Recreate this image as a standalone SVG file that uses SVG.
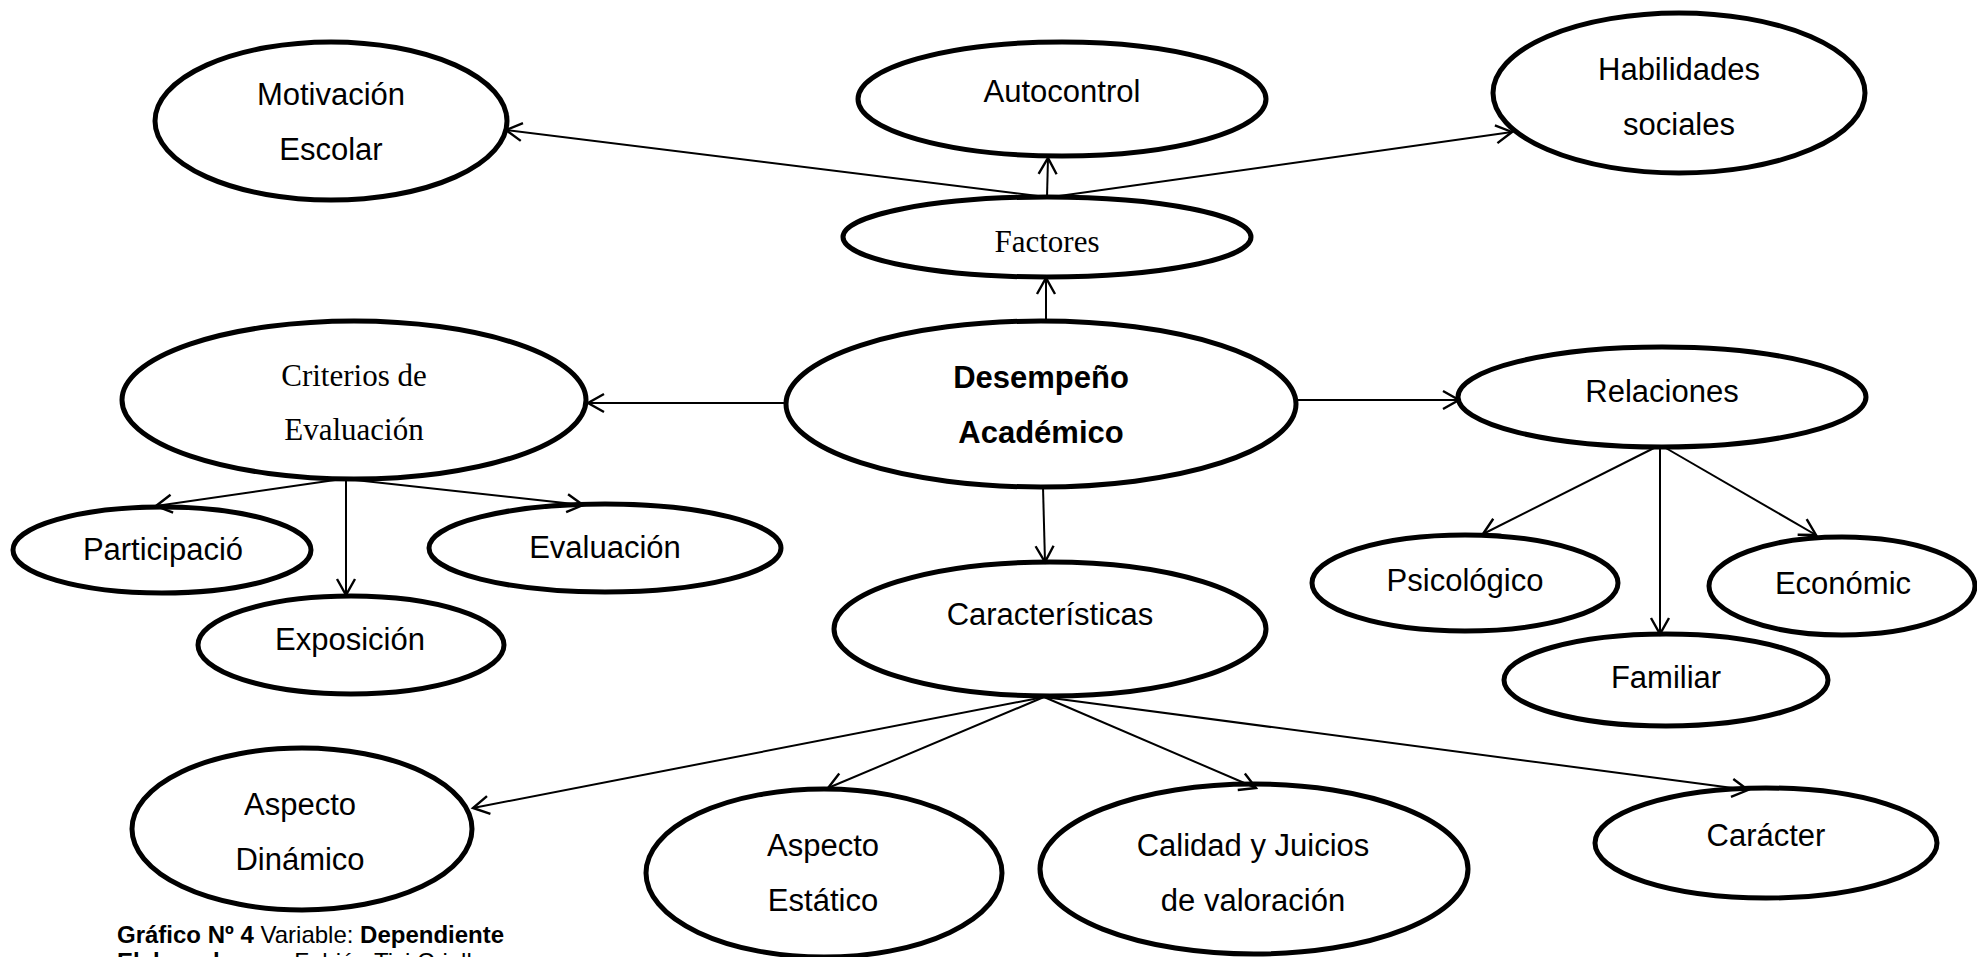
<svg xmlns="http://www.w3.org/2000/svg" width="1977" height="957" viewBox="0 0 1977 957">
<style>
.n ellipse{fill:#fff;stroke:#000;stroke-width:5}
.t{font-family:"Liberation Sans",Arial,sans-serif;font-size:31px;text-anchor:middle;fill:#000}
.s{font-family:"Liberation Serif","Times New Roman",serif;font-size:31px;text-anchor:middle;fill:#000}
.b{font-weight:bold}
.c line{stroke:#000;stroke-width:2;marker-end:url(#ar)}
.cap{font-family:"Liberation Sans",Arial,sans-serif;font-size:24px;fill:#000}
</style>
<defs>
<marker id="ar" markerUnits="userSpaceOnUse" markerWidth="22" markerHeight="22" viewBox="0 0 22 22" refX="19" refY="11" orient="auto">
<path d="M3,2 L19,11 L3,20" fill="none" stroke="#000" stroke-width="2.4"/>
</marker>
</defs>
<rect width="1977" height="957" fill="#fff"/>
<g class="n" id="motivacion"><ellipse cx="331" cy="121" rx="176" ry="79"/><text class="t" x="331" y="105">Motivación</text><text class="t" x="331" y="160">Escolar</text></g>
<g class="n" id="autocontrol"><ellipse cx="1062" cy="99" rx="204" ry="57"/><text class="t" x="1062" y="102">Autocontrol</text></g>
<g class="n" id="habilidades"><ellipse cx="1679" cy="93" rx="186" ry="80"/><text class="t" x="1679" y="80">Habilidades</text><text class="t" x="1679" y="135">sociales</text></g>
<g class="n" id="factores"><ellipse cx="1047" cy="237" rx="204" ry="40"/><text class="s" x="1047" y="252">Factores</text></g>
<g class="n" id="criterios"><ellipse cx="354" cy="400" rx="232" ry="79"/><text class="s" x="354" y="386">Criterios de</text><text class="s" x="354" y="440">Evaluación</text></g>
<g class="n" id="desempeno"><ellipse cx="1041" cy="404" rx="255" ry="83"/><text class="t b" x="1041" y="388">Desempeño</text><text class="t b" x="1041" y="443">Académico</text></g>
<g class="n" id="relaciones"><ellipse cx="1662" cy="397" rx="204" ry="50"/><text class="t" x="1662" y="402">Relaciones</text></g>
<g class="n" id="participacion"><ellipse cx="162" cy="550" rx="149" ry="43"/><text class="t" x="163" y="560">Participació</text></g>
<g class="n" id="evaluacion"><ellipse cx="605" cy="548" rx="176" ry="44"/><text class="t" x="605" y="558">Evaluación</text></g>
<g class="n" id="exposicion"><ellipse cx="351" cy="645" rx="153" ry="49"/><text class="t" x="350" y="650">Exposición</text></g>
<g class="n" id="caracteristicas"><ellipse cx="1050" cy="629" rx="216" ry="67"/><text class="t" x="1050" y="625">Características</text></g>
<g class="n" id="psicologico"><ellipse cx="1465" cy="583" rx="153" ry="48"/><text class="t" x="1465" y="591">Psicológico</text></g>
<g class="n" id="economic"><ellipse cx="1842" cy="586" rx="133" ry="49"/><text class="t" x="1843" y="594">Económic</text></g>
<g class="n" id="familiar"><ellipse cx="1666" cy="680" rx="162" ry="46"/><text class="t" x="1666" y="688">Familiar</text></g>
<g class="n" id="dinamico"><ellipse cx="302" cy="829" rx="170" ry="81"/><text class="t" x="300" y="815">Aspecto</text><text class="t" x="300" y="870">Dinámico</text></g>
<g class="n" id="estatico"><ellipse cx="824" cy="873" rx="178" ry="84"/><text class="t" x="823" y="856">Aspecto</text><text class="t" x="823" y="911">Estático</text></g>
<g class="n" id="calidad"><ellipse cx="1254" cy="869" rx="214" ry="85"/><text class="t" x="1253" y="856">Calidad y Juicios</text><text class="t" x="1253" y="911">de valoración</text></g>
<g class="n" id="caracter"><ellipse cx="1766" cy="843" rx="171" ry="55"/><text class="t" x="1766" y="846">Carácter</text></g>
<g class="c" id="connectors">
<line x1="1046" y1="197" x2="506" y2="130"/>
<line x1="1047" y1="197" x2="1048" y2="158"/>
<line x1="1052" y1="197" x2="1512" y2="132"/>
<line x1="1046" y1="321" x2="1046" y2="278"/>
<line x1="786" y1="403" x2="588" y2="403"/>
<line x1="1296" y1="400" x2="1459" y2="400"/>
<line x1="1043" y1="487" x2="1045" y2="562"/>
<line x1="335" y1="480" x2="156" y2="506"/>
<line x1="346" y1="480" x2="346" y2="595"/>
<line x1="355" y1="480" x2="583" y2="505"/>
<line x1="1656" y1="447" x2="1483" y2="534"/>
<line x1="1660" y1="447" x2="1660" y2="634"/>
<line x1="1664" y1="447" x2="1816" y2="535"/>
<line x1="1044" y1="697" x2="473" y2="808"/>
<line x1="1044" y1="697" x2="828" y2="788"/>
<line x1="1044" y1="697" x2="1256" y2="788"/>
<line x1="1044" y1="697" x2="1748" y2="790"/>
</g>
<g id="caption">
<text class="cap" x="117" y="943"><tspan font-weight="bold">Gráfico Nº 4</tspan> Variable: <tspan font-weight="bold">Dependiente</tspan></text>
<text class="cap" x="117" y="970"><tspan font-weight="bold">Elaborado por:</tspan> Fabián Tixi Criollo</text>
</g>
</svg>
